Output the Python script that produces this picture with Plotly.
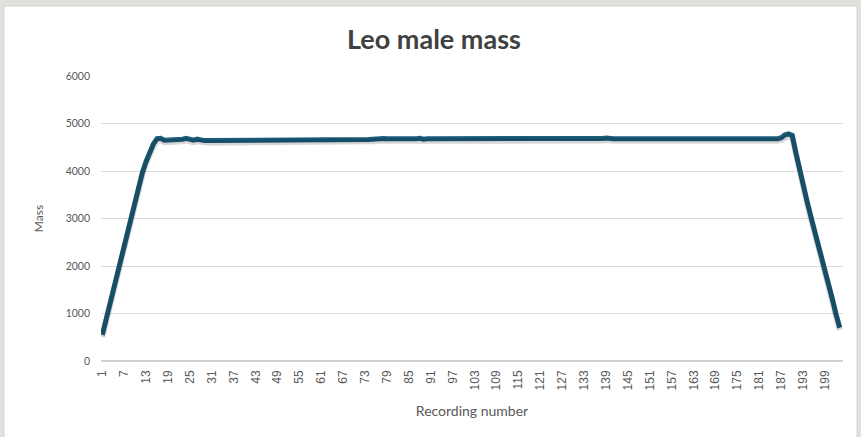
import plotly.graph_objects as go

recording = list(range(1, 204))
mass = [
    550, 860, 1180, 1500, 1840, 2160, 2480, 2780, 3090, 3380,
    3680, 3970, 4200, 4400, 4570, 4680, 4690, 4650, 4650, 4650,
    4650, 4660, 4670, 4690, 4670, 4650, 4670, 4650, 4640, 4640,
    4640, 4640, 4640, 4640, 4650, 4660, 4660, 4660, 4660, 4660,
    4660, 4660, 4665, 4660, 4660, 4660, 4660, 4665, 4660, 4660,
    4660, 4660, 4660, 4660, 4665, 4660, 4660, 4660, 4660, 4660,
    4660, 4660, 4660, 4665, 4660, 4660, 4660, 4660, 4660, 4660,
    4660, 4660, 4660, 4665, 4670, 4680, 4680, 4685, 4680, 4680,
    4680, 4680, 4685, 4675, 4660, 4680, 4680, 4690, 4670, 4680,
    4680, 4680, 4680, 4685, 4680, 4660, 4680, 4680, 4670, 4670,
    4670, 4670, 4680, 4670, 4680, 4680, 4680, 4680, 4680, 4680,
    4680, 4680, 4680, 4680, 4680, 4680, 4680, 4680, 4680, 4680,
    4680, 4680, 4680, 4680, 4680, 4670, 4680, 4680, 4680, 4680,
    4680, 4680, 4680, 4680, 4680, 4680, 4680, 4685, 4695, 4680,
    4680, 4680, 4680, 4680, 4680, 4680, 4680, 4680, 4680, 4680,
    4680, 4680, 4680, 4670, 4660, 4660, 4660, 4660, 4660, 4660,
    4660, 4660, 4665, 4660, 4660, 4660, 4660, 4660, 4660, 4660,
    4660, 4660, 4660, 4660, 4660, 4660, 4660, 4660, 4660, 4660,
    4660, 4660, 4660, 4665, 4670, 4680, 4700, 4760, 4780, 4750,
    4380, 4020, 3700, 3380, 3070, 2780, 2500, 2250, 1980, 1650,
    1300, 980, 700,
]
x_ticks = list(range(1, 200, 6))
y_ticks = [0, 1000, 2000, 3000, 4000, 5000, 6000]

title_text = "Leo male mass"
x_title = "Recording number"
y_title = "Mass"

line_color = "#1b5e7d"
grey_text = "#595959"

fig = go.Figure()
# soft shadow under the line (same data on an overlaid, slightly shifted axis)
fig.add_trace(go.Scatter(
    x=recording, y=mass, mode="lines", yaxis="y2",
    line=dict(color="rgba(0,0,0,0.16)", width=6),
    hoverinfo="skip", showlegend=False,
))
fig.add_trace(go.Scatter(
    x=recording, y=mass, mode="lines",
    line=dict(color=line_color, width=5),
    showlegend=False,
))

L, R, T, B = 101, 18, 76, 76
W, H = 861, 437
pw = W - L - R
ph = H - T - B

def px_x(p):
    return (p - L) / pw

def px_y(q):
    return (H - B - q) / ph

fig.update_layout(
    width=W, height=H,
    margin=dict(l=L, r=R, t=T, b=B, autoexpand=False),
    paper_bgcolor="#e2e2dc",
    plot_bgcolor="white",
    title=dict(text="<b>" + title_text + "</b>", x=0.504, xanchor="center",
               y=1 - 40 / H, yanchor="middle",
               font=dict(family="Lato", size=27, color="#404040")),
    xaxis=dict(
        range=[0.65, 203.9], tickmode="array", tickvals=x_ticks,
        ticktext=[str(v) for v in x_ticks], tickangle=-90,
        tickfont=dict(family="Liberation Sans", size=12, color=grey_text),
        showgrid=False, zeroline=False, showline=False, ticks="",
        ticklabelstandoff=6, automargin=False,
        title=dict(text=x_title, font=dict(family="Lato", size=14, color=grey_text),
                   standoff=16),
    ),
    yaxis=dict(
        range=[0, 6000], tickvals=y_ticks,
        tickfont=dict(family="Lato", size=10.5, color=grey_text),
        gridcolor="#d9d9d9", gridwidth=1, zeroline=True, zerolinecolor="#d0d0d0",
        showline=False, ticks="", ticklabelstandoff=10, automargin=False,
        title=dict(text=y_title, font=dict(family="Lato", size=12, color=grey_text),
                   standoff=19),
    ),
    yaxis2=dict(range=[45, 6045], overlaying="y", visible=False),
    shapes=[
        dict(type="rect", xref="paper", yref="paper", layer="below",
             x0=px_x(4), x1=px_x(857), y0=px_y(438), y1=px_y(6),
             fillcolor="white", line=dict(color="#d4d4ce", width=1)),
    ],
)

fig.write_html("out.html", config={"displayModeBar": False},
               post_script="document.body.style.margin='0';")
